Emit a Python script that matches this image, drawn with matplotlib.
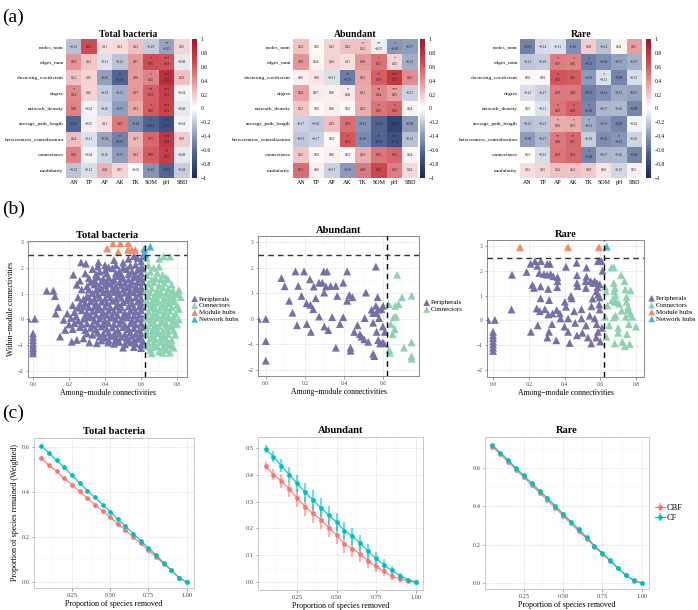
import numpy as np
import matplotlib
matplotlib.use('Agg')
import matplotlib.pyplot as plt
from matplotlib.colors import LinearSegmentedColormap, to_rgba
from matplotlib.ticker import MultipleLocator

plt.rcParams['font.family'] = ['Liberation Serif', 'DejaVu Serif']
plt.rcParams['axes.unicode_minus'] = True

# ---------------- (a) correlation heatmaps ----------------
rows = ['nodes_num', 'edges_num', 'clustering_coefficient', 'degree', 'network_density',
        'average_path_length', 'betweenness_centralization', 'connectance', 'modularity']
cols = ['AN', 'TP', 'AP', 'AK', 'TK', 'SOM', 'pH', 'SBD']

total_r = [
    [-0.23, 0.65, 0.11, 0.13, 0.23, -0.19, -0.35, 0.15],
    [0.39, 0.21, -0.11, -0.22, 0.37, 0.65, 0.63, -0.08],
    [0.22, 0.16, -0.36, -0.64, 0.36, 0.45, 0.82, 0.23],
    [0.43, 0.16, -0.19, -0.31, 0.37, 0.59, 0.72, -0.04],
    [0.46, -0.04, -0.16, -0.37, 0.32, 0.60, 0.71, -0.08],
    [-0.63, -0.05, 0.11, 0.49, -0.46, -0.64, -0.75, -0.04],
    [0.24, -0.11, -0.34, -0.50, 0.27, 0.55, 0.78, 0.19],
    [0.46, -0.04, -0.16, -0.37, 0.32, 0.60, 0.72, -0.08],
    [-0.22, -0.12, 0.28, 0.15, -0.02, -0.41, -0.63, -0.18],
]
total_sig = [
    ['', '', '', '', '', '', '**', ''],
    ['', '', '', '', '', '*', '***', ''],
    ['', '', '', '*', '', '*', '***', ''],
    ['*', '', '', '', '', '**', '***', ''],
    ['', '', '', '', '', '*', '***', ''],
    ['', '', '', '', '', '*', '***', ''],
    ['', '', '', '**', '', '', '***', ''],
    ['', '', '', '', '', '', '**', ''],
    ['', '', '', '', '', '', '', ''],
]
abund_r = [
    [0.22, 0.03, 0.15, 0.22, 0.22, -0.07, -0.40, -0.37],
    [0.39, 0.04, 0.16, 0.11, 0.38, 0.51, 0.15, -0.31],
    [0.06, 0.10, -0.11, -0.52, 0.33, 0.59, 0.77, 0.41],
    [0.34, 0.07, 0.06, 0.08, 0.31, 0.44, 0.35, -0.17],
    [0.21, 0.03, 0.06, 0.03, 0.29, 0.50, 0.56, 0.04],
    [-0.17, -0.20, 0.23, 0.53, -0.42, -0.63, -0.82, -0.38],
    [-0.21, -0.17, 0.03, 0.61, -0.46, -0.64, -0.74, -0.23],
    [0.21, 0.03, 0.06, 0.03, 0.29, 0.50, 0.56, 0.04],
    [0.53, 0.06, -0.17, -0.39, 0.48, 0.68, 0.47, 0.14],
]
abund_sig = [
    ['', '', '', '', '*', '**', '*', ''],
    ['', '', '', '', '', '*', '*', ''],
    ['', '', '', '**', '', '**', '***', ''],
    ['', '', '', '*', '', '**', '***', ''],
    ['', '', '', '', '', '*', '*', ''],
    ['', '', '', '', '', '', '', ''],
    ['', '', '', '*', '', '**', '***', ''],
    ['', '', '', '', '', '', '', ''],
    ['', '', '', '', '', '', '', ''],
]
rare_r = [
    [-0.50, -0.14, -0.11, -0.43, 0.18, -0.23, 0.04, 0.35],
    [-0.21, -0.19, 0.47, 0.46, -0.51, -0.44, -0.35, -0.29],
    [0.03, 0.03, 0.62, 0.60, -0.39, -0.11, -0.48, -0.12],
    [-0.12, -0.17, 0.48, 0.49, -0.51, -0.43, -0.32, -0.35],
    [0.01, -0.11, 0.50, 0.58, -0.48, -0.27, -0.26, -0.48],
    [-0.22, -0.21, 0.30, 0.31, -0.31, -0.39, -0.48, -0.04],
    [-0.38, -0.27, 0.48, 0.55, -0.18, -0.45, -0.41, -0.16],
    [0.01, -0.13, 0.50, 0.54, -0.48, -0.27, -0.26, -0.48],
    [0.12, 0.15, 0.22, 0.22, 0.19, 0.09, -0.15, 0.05],
]
rare_sig = [
    ['', '', '', '', '', '', '', ''],
    ['', '', '*', '*', '*', '', '', ''],
    ['', '', '*', '', '', '*', '', ''],
    ['', '', '', '', '', '', '', ''],
    ['', '', '*', '*', '*', '', '', ''],
    ['', '', '*', '*', '*', '', '', ''],
    ['', '', '**', '**', '', '', '*', ''],
    ['', '', '', '', '*', '', '', ''],
    ['', '', '', '', '', '', '', ''],
]

# ---------------- (b) Zi-Pi scatter ----------------
tot_per = [
    (-0.03, 0.02), (0.01, 0.02),
    (0.0, -0.55), (0.0, -0.68), (0.0, -0.8), (0.0, -0.92), (0.0, -1.02), (0.0, -1.12), (0.0, -1.22), (0.0, -1.32),
    (0.076, 1.11), (0.113, 1.11), (0.122, 0.90), (0.14, 0.48), (0.126, 0.22), (0.19, 0.22), (0.224, 1.73),
    (0.243, 1.34), (0.267, 2.21), (0.294, 2.16), (0.298, 0.88), (0.27, 1.16), (0.261, 0.60), (0.363, 2.21),
    (0.15, -0.67), (0.178, -0.41), (0.215, -0.87), (0.243, -0.80), (0.28, -0.74), (0.313, -0.90), (0.354, -0.93),
    (0.37, -0.67), (0.418, -0.90), (0.22, 0.55), (0.25, 0.85), (0.20, -0.2),
    (0.45, 2.3), (0.50, 2.2), (0.53, 2.35), (0.56, 2.45), (0.58, 2.38), (0.60, 2.25), (0.61, 2.45), (0.40, 2.1),
    (0.36, 2.05), (0.42, 2.02), (0.46, 2.1), (0.50, 2.0), (0.54, 2.08), (0.57, 2.12), (0.60, 2.0),
    (0.33, 1.95), (0.37, 1.85), (0.40, 1.9), (0.44, 1.98), (0.48, 1.88), (0.52, 1.95), (0.55, 1.85), (0.58, 1.92), (0.61, 1.97),
    (0.29, 1.78), (0.35, 1.75), (0.41, 1.78), (0.46, 1.8), (0.49, 1.72), (0.53, 1.76), (0.57, 1.72), (0.60, 1.8),
    (0.31, 1.6), (0.34, 1.52), (0.36, 1.65), (0.39, 1.58), (0.42, 1.62), (0.45, 1.55), (0.47, 1.68), (0.50, 1.6),
    (0.53, 1.55), (0.56, 1.64), (0.59, 1.58), (0.61, 1.62),
    (0.26, 1.5), (0.32, 1.45), (0.35, 1.42), (0.38, 1.47), (0.41, 1.44), (0.44, 1.47), (0.48, 1.45), (0.51, 1.42),
    (0.55, 1.47), (0.58, 1.44), (0.61, 1.45),
    (0.30, 1.28), (0.34, 1.35), (0.37, 1.25), (0.40, 1.32), (0.43, 1.38), (0.46, 1.27), (0.49, 1.33), (0.52, 1.24),
    (0.54, 1.36), (0.57, 1.3), (0.60, 1.26),
    (0.31, 1.15), (0.35, 1.12), (0.38, 1.18), (0.41, 1.14), (0.44, 1.17), (0.47, 1.12), (0.50, 1.16), (0.54, 1.13),
    (0.57, 1.17), (0.60, 1.12),
    (0.33, 1.02), (0.36, 0.95), (0.39, 1.05), (0.42, 0.98), (0.45, 1.06), (0.48, 0.96), (0.51, 1.03), (0.53, 0.94),
    (0.56, 1.05), (0.59, 0.99), (0.61, 1.08),
    (0.28, 0.78), (0.31, 0.85), (0.34, 0.8), (0.37, 0.84), (0.40, 0.8), (0.43, 0.86), (0.46, 0.8), (0.49, 0.84),
    (0.54, 0.82), (0.57, 0.86), (0.60, 0.8),
    (0.29, 0.62), (0.32, 0.7), (0.35, 0.6), (0.38, 0.68), (0.41, 0.64), (0.44, 0.72), (0.47, 0.6), (0.50, 0.67),
    (0.52, 0.74), (0.55, 0.62), (0.58, 0.69), (0.60, 0.63),
    (0.25, 0.45), (0.28, 0.5), (0.31, 0.47), (0.34, 0.5), (0.37, 0.45), (0.40, 0.49), (0.43, 0.46), (0.46, 0.5),
    (0.49, 0.47), (0.53, 0.5), (0.56, 0.46), (0.59, 0.5), (0.61, 0.48),
    (0.23, 0.28), (0.27, 0.35), (0.30, 0.25), (0.33, 0.32), (0.36, 0.38), (0.39, 0.27), (0.42, 0.34), (0.45, 0.29),
    (0.48, 0.37), (0.51, 0.26), (0.54, 0.33), (0.57, 0.3), (0.60, 0.36),
    (0.24, 0.12), (0.29, 0.16), (0.32, 0.12), (0.35, 0.18), (0.38, 0.14), (0.41, 0.17), (0.44, 0.12), (0.47, 0.16),
    (0.50, 0.12), (0.53, 0.17), (0.56, 0.14), (0.59, 0.18),
    (0.17, -0.02), (0.21, 0.05), (0.25, -0.05), (0.28, 0.02), (0.31, 0.08), (0.34, -0.04), (0.37, 0.03), (0.40, -0.06),
    (0.43, 0.06), (0.46, 0.0), (0.49, -0.03), (0.52, 0.07), (0.55, -0.05), (0.58, 0.02), (0.61, 0.05),
    (0.23, -0.15), (0.27, -0.2), (0.30, -0.16), (0.33, -0.22), (0.36, -0.17), (0.39, -0.2), (0.42, -0.15), (0.45, -0.2),
    (0.48, -0.17), (0.51, -0.22), (0.54, -0.16), (0.57, -0.2), (0.60, -0.15),
    (0.22, -0.38), (0.26, -0.3), (0.29, -0.42), (0.32, -0.33), (0.35, -0.4), (0.38, -0.28), (0.41, -0.37), (0.44, -0.32),
    (0.47, -0.43), (0.50, -0.3), (0.53, -0.38), (0.56, -0.34), (0.59, -0.41), (0.61, -0.3),
    (0.30, -0.55), (0.33, -0.6), (0.36, -0.52), (0.39, -0.56), (0.42, -0.52), (0.45, -0.58), (0.48, -0.54),
    (0.51, -0.57), (0.54, -0.52), (0.57, -0.57), (0.60, -0.53),
    (0.40, -0.72), (0.43, -0.65), (0.46, -0.75), (0.49, -0.68), (0.52, -0.72), (0.55, -0.64), (0.58, -0.76), (0.60, -0.7),
    (0.38, -0.82), (0.42, -0.8), (0.47, -0.82), (0.53, -0.82), (0.56, -0.84), (0.61, -0.85),
    (0.45, -0.95), (0.48, -0.88), (0.51, -0.97), (0.54, -0.9), (0.57, -0.94), (0.60, -0.98),
    (0.50, -1.1), (0.56, -1.08), (0.60, -1.12),
]
tot_con = [
    (0.63, 2.38), (0.725, 2.44), (0.76, 2.44), (0.70, 2.35),
    (0.64, 2.1), (0.67, 2.0), (0.70, 2.05),
    (0.65, 1.85), (0.69, 1.8),
    (0.63, 1.72), (0.66, 1.55), (0.72, 1.73), (0.74, 1.62),
    (0.68, 1.6), (0.71, 1.55), (0.75, 1.55),
    (0.64, 1.38), (0.67, 1.45), (0.70, 1.32), (0.73, 1.42), (0.77, 1.35),
    (0.63, 1.15), (0.66, 1.22), (0.69, 1.12), (0.72, 1.25), (0.75, 1.18), (0.78, 1.1), (0.81, 1.14),
    (0.65, 1.05), (0.68, 1.0), (0.71, 1.05), (0.74, 1.02), (0.77, 1.05), (0.80, 0.98),
    (0.64, 0.9), (0.67, 0.82), (0.70, 0.95), (0.73, 0.86), (0.76, 0.92), (0.78, 0.84), (0.82, 0.86),
    (0.63, 0.75), (0.66, 0.7), (0.69, 0.78), (0.72, 0.72), (0.75, 0.76), (0.78, 0.7),
    (0.63, 0.6), (0.66, 0.55), (0.69, 0.65), (0.72, 0.58), (0.75, 0.62), (0.80, 0.55),
    (0.65, 0.45), (0.68, 0.42), (0.71, 0.48), (0.74, 0.44), (0.77, 0.47), (0.81, 0.4),
    (0.64, 0.3), (0.67, 0.25), (0.70, 0.35), (0.73, 0.28), (0.76, 0.33), (0.79, 0.22),
    (0.63, 0.15), (0.66, 0.12), (0.69, 0.18), (0.72, 0.14), (0.75, 0.16), (0.78, 0.1),
    (0.63, 0.02), (0.66, -0.05), (0.69, 0.05), (0.72, -0.02), (0.75, 0.04), (0.78, -0.06), (0.81, 0.0),
    (0.65, -0.15), (0.68, -0.2), (0.71, -0.12), (0.74, -0.18), (0.77, -0.14), (0.80, -0.2),
    (0.64, -0.3), (0.67, -0.35), (0.70, -0.26), (0.74, -0.32), (0.77, -0.28),
    (0.63, -0.45), (0.66, -0.48), (0.69, -0.42), (0.72, -0.46), (0.75, -0.44), (0.78, -0.42),
    (0.63, -0.6), (0.66, -0.65), (0.69, -0.55), (0.72, -0.62), (0.75, -0.58), (0.79, -0.6),
    (0.65, -0.75), (0.68, -0.78), (0.71, -0.72), (0.74, -0.76), (0.77, -0.8),
    (0.64, -0.9), (0.67, -0.95), (0.71, -0.88), (0.74, -0.92), (0.77, -0.97),
    (0.63, -1.05), (0.66, -1.08), (0.69, -1.05), (0.72, -1.08), (0.75, -1.02), (0.78, -1.1),
    (0.65, -1.2), (0.70, -1.25), (0.74, -1.18), (0.76, -1.3), (0.66, -1.32), (0.72, -1.3),
]
tot_mod = [(0.412, 2.75), (0.444, 2.95), (0.473, 2.62), (0.485, 2.95), (0.529, 2.96),
           (0.527, 2.70), (0.549, 2.69), (0.568, 2.69)]
tot_net = [(0.617, 2.73), (0.651, 2.82), (0.624, 2.53)]

ab_per = [
    (-0.04, 0.0), (0.0, 0.0), (0.0, -0.87), (0.0, -1.64),
    (0.08, 1.6), (0.097, 1.28), (0.12, 0.71), (0.137, 0.24), (0.152, 1.86), (0.166, 1.29), (0.183, 0.9),
    (0.196, 1.86), (0.209, 0.61), (0.226, 1.55), (0.229, 0.55), (0.246, 1.27), (0.243, 0.38), (0.256, 0.81),
    (0.273, 1.42), (0.29, 1.42), (0.297, 1.86), (0.314, 1.86), (0.299, 1.03), (0.308, 1.27), (0.332, 1.29),
    (0.359, 1.29), (0.366, 0.9), (0.397, 1.42), (0.417, 1.86), (0.417, 0.71), (0.428, 0.94), (0.444, 0.85),
    (0.513, 1.03), (0.564, 2.05), (0.573, 0.85), (0.564, 0.51), (0.576, 0.36), (0.593, 0.38), (0.601, 0.51),
    (0.542, 0.36), (0.55, 0.23), (0.567, 0.23), (0.273, 0.09), (0.34, 0.07), (0.397, 0.07), (0.507, 0.03),
    (0.58, 0.03), (0.16, -0.25), (0.21, -0.2), (0.30, -0.3), (0.38, -0.2), (0.47, -0.25), (0.55, -0.15), (0.60, -0.3),
    (0.231, -0.51), (0.32, -0.44), (0.359, -1.13), (0.434, -1.13), (0.434, -1.25), (0.453, -0.51), (0.482, -0.6),
    (0.49, -0.7), (0.504, -0.8), (0.525, -0.9), (0.55, -1.37), (0.556, -1.46), (0.568, -0.51), (0.576, -0.83),
    (0.585, -0.96), (0.598, -0.93), (0.605, -0.96), (0.61, -0.51),
]
ab_con = [
    (0.673, 1.73), (0.63, 0.58), (0.664, 0.51), (0.68, 0.58), (0.698, 0.85), (0.747, 0.91), (0.668, 0.09),
    (0.656, 0.07), (0.64, -0.2), (0.66, -0.4), (0.632, -1.2), (0.636, -1.33), (0.708, -1.13), (0.747, -0.92),
    (0.747, -1.46), (0.747, -1.56), (0.65, -0.6),
]

rare_per = [
    (-0.03, 0.02), (0.01, 0.02),
    (0.0, -0.46), (0.0, -0.6), (0.0, -0.72), (0.0, -0.85), (0.0, -0.97), (0.0, -1.1), (0.0, -1.23),
    (0.106, 1.84), (0.103, 0.44), (0.188, 1.95), (0.21, 2.28), (0.235, 2.39), (0.248, 2.2), (0.268, 2.39),
    (0.259, 1.91), (0.303, 2.28), (0.318, 2.28), (0.285, 1.87), (0.303, 1.84), (0.322, 1.87), (0.337, 1.78),
    (0.361, 1.74), (0.361, 1.58), (0.22, 1.43), (0.229, 1.31), (0.266, 1.37), (0.309, 1.27), (0.359, 1.34),
    (0.266, 0.89), (0.314, 0.82), (0.244, 0.48), (0.262, 0.37), (0.29, 0.45), (0.309, 0.24), (0.333, 0.28),
    (0.356, 0.42), (0.374, 0.28), (0.378, 0.08), (0.402, 0.75), (0.408, 0.55), (0.42, 0.08), (0.436, 0.99),
    (0.44, 0.89), (0.408, 2.16), (0.468, 2.32), (0.47, 1.82), (0.47, 1.51), (0.473, 1.38), (0.454, 0.37),
    (0.495, 0.45), (0.523, 2.13), (0.523, 1.76), (0.518, 1.58), (0.52, 1.31), (0.546, 1.58), (0.56, 1.51),
    (0.569, 1.58), (0.582, 1.51), (0.597, 1.45), (0.584, 1.34), (0.579, 1.17), (0.588, 1.03), (0.597, 0.93),
    (0.557, 0.88), (0.551, 0.57), (0.594, 0.64), (0.597, 0.44), (0.495, 0.08), (0.541, 0.19), (0.569, 0.08),
    (0.587, 2.39), (0.597, 2.39), (0.607, 2.39), (0.613, 2.0),
    (0.25, -0.2), (0.33, -0.15), (0.40, -0.25), (0.46, -0.1), (0.52, -0.2), (0.58, -0.15), (0.61, -0.3),
    (0.212, -0.46), (0.304, -0.69), (0.313, -0.46), (0.354, -0.8), (0.42, -0.46), (0.429, -0.91), (0.47, -0.6),
    (0.5, -0.5), (0.531, -0.69), (0.55, -0.93), (0.578, -0.69), (0.587, -0.46), (0.60, -0.85),
]
rare_con = [
    (0.663, 2.14), (0.676, 2.14), (0.627, 1.34), (0.632, 1.17), (0.676, 1.51), (0.682, 1.31), (0.678, 1.17),
    (0.685, 1.01), (0.717, 1.82), (0.736, 1.58), (0.74, 1.25), (0.77, 1.21), (0.667, 0.82), (0.682, 0.75),
    (0.69, 0.75), (0.705, 0.68), (0.747, 0.94), (0.747, 0.75), (0.756, 0.55), (0.752, 0.42), (0.769, 0.28),
    (0.627, 0.15), (0.676, 0.12), (0.687, 0.19), (0.743, 0.15), (0.78, 0.15), (0.64, 0.6), (0.72, 0.4),
    (0.65, -0.2), (0.70, -0.3), (0.76, -0.15), (0.80, -0.25),
    (0.634, -0.66), (0.681, -0.93), (0.724, -0.86), (0.737, -1.04), (0.765, -0.95), (0.70, -0.5), (0.75, -0.55),
]
rare_mod = [(0.151, 2.95), (0.42, 2.95), (0.592, 2.95)]
rare_net = [(0.636, 2.97)]

# ---------------- (c) robustness ----------------
prop_removed = [0.05, 0.10, 0.15, 0.20, 0.25, 0.30, 0.35, 0.40, 0.45, 0.50,
                0.55, 0.60, 0.65, 0.70, 0.75, 0.80, 0.85, 0.90, 0.95, 1.00]
tot_cbf = [0.550, 0.519, 0.492, 0.461, 0.433, 0.403, 0.373, 0.344, 0.317, 0.287,
           0.258, 0.230, 0.200, 0.172, 0.141, 0.111, 0.081, 0.052, 0.018, 0.0]
tot_cf = [0.606, 0.573, 0.540, 0.510, 0.474, 0.441, 0.406, 0.376, 0.344, 0.313,
          0.279, 0.247, 0.215, 0.184, 0.151, 0.120, 0.084, 0.052, 0.018, 0.0]
tot_err = [0.004, 0.004, 0.004, 0.004, 0.004, 0.004, 0.004, 0.004, 0.004, 0.004,
           0.004, 0.004, 0.004, 0.004, 0.004, 0.003, 0.003, 0.002, 0.002, 0.0]
ab_cbf = [0.432, 0.401, 0.377, 0.347, 0.313, 0.281, 0.256, 0.233, 0.203, 0.176,
          0.141, 0.124, 0.105, 0.078, 0.058, 0.040, 0.021, 0.012, 0.004, 0.0]
ab_cf = [0.497, 0.467, 0.434, 0.401, 0.368, 0.334, 0.306, 0.277, 0.249, 0.224,
         0.192, 0.170, 0.145, 0.114, 0.088, 0.064, 0.043, 0.024, 0.009, 0.0]
ab_cbf_err = [0.015, 0.020, 0.025, 0.030, 0.033, 0.035, 0.036, 0.036, 0.035, 0.034,
              0.033, 0.030, 0.030, 0.026, 0.022, 0.018, 0.014, 0.010, 0.005, 0.002]
ab_cf_err = [0.015, 0.020, 0.025, 0.028, 0.032, 0.035, 0.036, 0.036, 0.035, 0.034,
             0.032, 0.032, 0.030, 0.028, 0.025, 0.020, 0.016, 0.010, 0.006, 0.002]
rare_cbf = [0.711, 0.672, 0.632, 0.592, 0.552, 0.511, 0.472, 0.433, 0.393, 0.352,
            0.311, 0.271, 0.232, 0.190, 0.152, 0.115, 0.077, 0.040, 0.013, 0.0]
rare_cf = [0.719, 0.680, 0.642, 0.600, 0.562, 0.520, 0.482, 0.443, 0.403, 0.361,
           0.320, 0.280, 0.239, 0.195, 0.157, 0.118, 0.078, 0.040, 0.014, 0.0]
rare_err = [0.006, 0.006, 0.006, 0.006, 0.006, 0.006, 0.006, 0.006, 0.006, 0.006,
            0.006, 0.006, 0.005, 0.005, 0.005, 0.004, 0.004, 0.003, 0.002, 0.0]

# ---------------- styling ----------------
W, H = 698, 610
fig = plt.figure(figsize=(W / 100, H / 100), dpi=100)


def px_axes(l, t, r, b):
    return fig.add_axes([l / W, 1 - b / H, (r - l) / W, (b - t) / H])


cmap = LinearSegmentedColormap.from_list(
    'rb', ['#1B2757', '#4A5D8E', '#9AA6C2', '#FFFFFF', '#E8A4A6', '#CE4A50', '#A3152A'])

C_PER = '#7371A8'
C_CON = '#8DD3B2'
C_MOD = '#F58B67'
C_NET = '#49B3D8'
C_CBF = '#F8766D'
C_CF = '#00BFC4'


def fmt(v):
    return f'{v:.2f}'.replace('-', '\u2212')


def heatmap(box, cbox, data, sig, title):
    ax = px_axes(*box)
    arr = np.array(data)
    im = ax.imshow(arr, cmap=cmap, vmin=-1, vmax=1, aspect='auto', interpolation='nearest')
    for i in range(arr.shape[0]):
        for j in range(arr.shape[1]):
            s = sig[i][j]
            if s:
                ax.text(j, i - 0.22, s, ha='center', va='center', fontsize=3.0, color='#222222')
                ax.text(j, i + 0.14, fmt(arr[i, j]), ha='center', va='center', fontsize=2.6, color='#222222')
            else:
                ax.text(j, i, fmt(arr[i, j]), ha='center', va='center', fontsize=2.6, color='#222222')
    ax.set_xticks(range(len(cols)))
    ax.set_xticklabels(cols, fontsize=4.3)
    ax.set_yticks(range(len(rows)))
    ax.set_yticklabels(rows, fontsize=3.9)
    ax.tick_params(length=0, pad=1.5)
    for sp in ax.spines.values():
        sp.set_visible(False)
    ax.set_title(title, fontsize=7, fontweight='bold', pad=1.5)
    cax = px_axes(*cbox)
    ticks = np.round(np.linspace(-1, 1, 11), 1)
    cb = fig.colorbar(im, cax=cax, ticks=ticks)
    cb.ax.set_yticklabels(['0' if abs(t) < 1e-9 else ('1' if t == 1 else ('\u22121' if t == -1 else f'{t:g}'.replace('-', '\u2212'))) for t in ticks])
    cb.ax.tick_params(labelsize=4, length=1.5, width=0.4, pad=1, color='white')
    cb.outline.set_visible(False)


heatmap((66, 39, 190, 178), (192, 39, 197, 178), total_r, total_sig, 'Total bacteria')
heatmap((293, 39, 418, 178), (420, 39, 425, 178), abund_r, abund_sig, 'Abundant')
heatmap((520, 39, 642, 178), (646, 39, 651, 178), rare_r, rare_sig, 'Rare')


def style_axes(ax, border='#888888'):
    ax.set_facecolor('white')
    ax.grid(True, which='major', color='#E6E6E6', lw=0.5)
    ax.grid(True, which='minor', color='#F3F3F3', lw=0.35)
    ax.set_axisbelow(True)
    for sp in ax.spines.values():
        sp.set_color(border)
        sp.set_linewidth(0.7)
    ax.tick_params(which='major', length=1.8, width=0.4, color='#555555', labelsize=4, pad=1.5, labelcolor='#444444')
    ax.tick_params(which='minor', length=0)


def zipi(box, groups, xlim, ylim, title, ylabel=None):
    ax = px_axes(*box)
    for pts, color, label in groups:
        arr = np.array(pts)
        ax.scatter(arr[:, 0], arr[:, 1], marker='^', s=32, c=color, edgecolors='none', label=label, zorder=3)
    ax.axvline(0.62, ls=(0, (4, 3)), color='black', lw=1.0, zorder=4)
    ax.axhline(2.5, ls=(0, (4, 3)), color='#333333', lw=1.0, zorder=4)
    ax.set_xlim(*xlim)
    ax.set_ylim(*ylim)
    ax.xaxis.set_major_locator(MultipleLocator(0.2))
    ax.xaxis.set_minor_locator(MultipleLocator(0.1))
    ax.yaxis.set_major_locator(MultipleLocator(1))
    ax.yaxis.set_minor_locator(MultipleLocator(0.5))
    ax.xaxis.set_major_formatter(plt.FuncFormatter(lambda v, p: f'{v:.1f}'.replace('-', '\u2212')))
    ax.yaxis.set_major_formatter(plt.FuncFormatter(lambda v, p: f'{v:.0f}'.replace('-', '\u2212')))
    style_axes(ax, '#8A8A8A')
    ax.set_title(title, fontsize=7.6, fontweight='bold', pad=2.5)
    ax.set_xlabel('Among\u2212module connectivities', fontsize=5.6, labelpad=1.5)
    if ylabel:
        ax.set_ylabel(ylabel, fontsize=5.6, labelpad=2)
    ax.legend(loc='center left', bbox_to_anchor=(1.0, 0.5), frameon=False, fontsize=5.0,
              handletextpad=0.1, labelspacing=0.15, borderaxespad=0.2, handlelength=1.0,
              markerscale=0.85)
    return ax


zipi((28, 241, 187, 377),
     [(tot_per, C_PER, 'Peripherals'), (tot_con, C_CON, 'Connectors'),
      (tot_mod, C_MOD, 'Module hubs'), (tot_net, C_NET, 'Network hubs')],
     (-0.028, 0.855), (-2.24, 3.04), 'Total bacteria', 'Within\u2212module connectivities')
zipi((258, 236, 419, 376),
     [(ab_per, C_PER, 'Peripherals'), (ab_con, C_CON, 'Connectors')],
     (-0.04, 0.785), (-2.24, 3.25), 'Abundant')
zipi((487, 240, 644, 377),
     [(rare_per, C_PER, 'Peripherals'), (rare_con, C_CON, 'Connectors'),
      (rare_mod, C_MOD, 'Module hubs'), (rare_net, C_NET, 'Network hubs')],
     (-0.034, 0.845), (-2.28, 3.24), 'Rare')


def robust(box, cbf, cf, cbf_err, cf_err, ylim, ymaj, title, ylabel=None, legend=False):
    ax = px_axes(*box)
    x = np.array(prop_removed)
    ax.errorbar(x, cbf, yerr=cbf_err, fmt='-o', color=C_CBF, ms=2.4, lw=0.8,
                elinewidth=1.6, ecolor=to_rgba(C_CBF, 0.55), capsize=0, label='CBF', zorder=3)
    ax.errorbar(x, cf, yerr=cf_err, fmt='-o', color=C_CF, ms=2.4, lw=0.8,
                elinewidth=1.6, ecolor=to_rgba(C_CF, 0.55), capsize=0, label='CF', zorder=3)
    ax.set_xlim(0.0025, 1.0475)
    ax.set_ylim(*ylim)
    ax.xaxis.set_major_locator(MultipleLocator(0.25))
    ax.xaxis.set_minor_locator(MultipleLocator(0.125))
    ax.yaxis.set_major_locator(MultipleLocator(ymaj))
    ax.yaxis.set_minor_locator(MultipleLocator(ymaj / 2))
    ax.xaxis.set_major_formatter(plt.FuncFormatter(lambda v, p: f'{v:.2f}'))
    ax.yaxis.set_major_formatter(plt.FuncFormatter(lambda v, p: f'{v:.1f}'.replace('-', '\u2212')))
    style_axes(ax, '#C8C8C8')
    ax.tick_params(which='major', labelsize=4.6)
    ax.set_title(title, fontsize=7.6, fontweight='bold', pad=3)
    ax.set_xlabel('Proportion of species removed', fontsize=5.8, labelpad=1.5)
    if ylabel:
        ax.set_ylabel(ylabel, fontsize=5.8, labelpad=2)
    if legend:
        ax.legend(loc='center left', bbox_to_anchor=(1.0, 0.5), frameon=False, fontsize=6,
                  handletextpad=0.2, labelspacing=0.2, handlelength=1.2, borderaxespad=0.3)
    return ax


robust((34, 438, 194, 588), tot_cbf, tot_cf, tot_err, tot_err, (-0.027, 0.64), 0.2,
       'Total bacteria', 'Proportion of species remained (Weighted)')
robust((258, 437, 423, 590), ab_cbf, ab_cf, ab_cbf_err, ab_cf_err, (-0.03, 0.541), 0.1, 'Abundant')
robust((485, 437, 649, 589), rare_cbf, rare_cf, rare_err, rare_err, (-0.031, 0.762), 0.2, 'Rare',
       legend=True)

fig.text(2 / W, 1 - 17 / H, '(a)', fontsize=14, va='center', ha='left')
fig.text(2 / W, 1 - 209 / H, '(b)', fontsize=14, va='center', ha='left')
fig.text(2 / W, 1 - 413 / H, '(c)', fontsize=14, va='center', ha='left')

fig.savefig('out.png', dpi=100)
